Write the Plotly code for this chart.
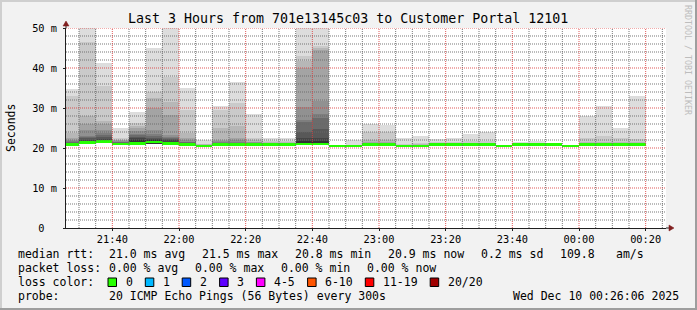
import pandas as pd
import plotly.graph_objects as go

# ---------------- data ----------------
title = "Last 3 Hours from 701e13145c03 to Customer Portal 12101"
range_start = "2025-12-09 21:26:06"
range_end = "2025-12-10 00:26:06"
first_bin = "2025-12-09 21:25:00"
bin_seconds = 300

# median RTT per 5-minute bin (ms)
median_ms = [20.9, 21.4, 21.6, 21.0, 21.1, 21.5, 21.2, 20.9, 20.5, 20.9,
             20.9, 20.9, 20.9, 20.9, 21.0, 21.0, 20.5, 20.5, 20.9, 20.9,
             20.5, 20.5, 20.9, 20.9, 20.9, 20.9, 20.5, 20.9, 20.9, 20.9,
             20.5, 20.9, 20.9, 20.9, 20.9]

# fastest ping per bin (ms)
min_ms = [20.8, 21.0, 21.2, 20.8, 20.9, 21.1, 20.8, 20.8, 20.4, 20.7,
          20.7, 20.8, 20.8, 20.8, 20.9, 20.9, 20.4, 20.4, 20.8, 20.8,
          20.4, 20.4, 20.8, 20.8, 20.8, 20.8, 20.4, 20.8, 20.8, 20.8,
          20.4, 20.8, 20.8, 20.8, 20.8]

# upper ping ranks per bin (ms): slowest (20/20) down to 11/20
smoke_upper = [
    [34.7, 33.0, 23.8, 22.4, 22.0, 21.7, 21.5, 21.3, 21.2, 21.1],
    [53.0, 46.4, 28.0, 26.0, 24.5, 23.1, 22.7, 22.4, 22.1, 21.8],
    [41.2, 35.4, 26.8, 25.9, 24.5, 23.8, 23.3, 22.8, 22.3, 22.0],
    [25.1, 22.5, 22.1, 21.9, 21.7, 21.5, 21.4, 21.3, 21.2, 21.1],
    [29.1, 26.3, 25.5, 24.9, 24.2, 23.6, 23.2, 22.8, 22.5, 22.0],
    [45.0, 33.9, 32.4, 30.1, 24.4, 23.5, 23.0, 22.6, 22.2, 21.9],
    [55.0, 37.8, 31.6, 28.2, 23.3, 22.8, 22.5, 22.2, 21.9, 21.6],
    [34.9, 29.4, 23.8, 22.5, 21.9, 21.6, 21.4, 21.3, 21.2, 21.1],
    [22.1, 21.0, 20.9, 20.8, 20.8, 20.7, 20.7, 20.6, 20.6, 20.6],
    [30.6, 29.6, 24.9, 22.1, 21.8, 21.5, 21.3, 21.2, 21.1, 21.0],
    [36.4, 31.2, 25.6, 22.4, 21.9, 21.5, 21.3, 21.2, 21.1, 21.0],
    [28.6, 22.4, 21.9, 21.6, 21.4, 21.3, 21.2, 21.1, 21.0, 21.0],
    [22.6, 21.8, 21.5, 21.3, 21.2, 21.1, 21.0, 21.0, 20.9, 20.9],
    [22.6, 21.7, 21.4, 21.3, 21.2, 21.1, 21.0, 21.0, 20.9, 20.9],
    [54.0, 43.0, 41.8, 40.1, 30.2, 27.1, 26.5, 24.0, 22.6, 21.8],
    [56.0, 45.6, 45.0, 44.5, 31.7, 28.4, 27.5, 24.8, 22.5, 21.8],
    [20.6, 20.6, 20.6, 20.6, 20.6, 20.6, 20.6, 20.6, 20.6, 20.6],
    [21.9, 20.8, 20.7, 20.7, 20.6, 20.6, 20.6, 20.6, 20.6, 20.6],
    [26.1, 24.0, 22.1, 21.5, 21.3, 21.2, 21.1, 21.0, 21.0, 20.9],
    [25.8, 24.0, 22.1, 21.5, 21.3, 21.2, 21.1, 21.0, 21.0, 20.9],
    [22.5, 21.0, 20.8, 20.7, 20.7, 20.6, 20.6, 20.6, 20.6, 20.6],
    [23.1, 21.2, 20.9, 20.8, 20.7, 20.7, 20.6, 20.6, 20.6, 20.6],
    [22.3, 21.5, 21.2, 21.1, 21.0, 21.0, 21.0, 20.9, 20.9, 20.9],
    [22.6, 21.6, 21.3, 21.1, 21.0, 21.0, 21.0, 20.9, 20.9, 20.9],
    [23.6, 21.7, 21.3, 21.1, 21.0, 21.0, 21.0, 20.9, 20.9, 20.9],
    [24.0, 21.8, 21.3, 21.1, 21.0, 21.0, 21.0, 20.9, 20.9, 20.9],
    [20.6, 20.6, 20.6, 20.6, 20.6, 20.6, 20.6, 20.6, 20.6, 20.6],
    [21.4, 21.1, 21.0, 21.0, 20.9, 20.9, 20.9, 20.9, 20.9, 20.9],
    [21.7, 21.2, 21.0, 21.0, 20.9, 20.9, 20.9, 20.9, 20.9, 20.9],
    [21.0, 21.0, 20.9, 20.9, 20.9, 20.9, 20.9, 20.9, 20.9, 20.9],
    [20.6, 20.6, 20.6, 20.6, 20.6, 20.6, 20.6, 20.6, 20.6, 20.6],
    [28.1, 22.4, 21.4, 21.2, 21.1, 21.0, 21.0, 21.0, 20.9, 20.9],
    [30.6, 23.1, 21.5, 21.2, 21.1, 21.0, 21.0, 21.0, 20.9, 20.9],
    [24.9, 22.4, 21.4, 21.2, 21.1, 21.0, 21.0, 21.0, 20.9, 20.9],
    [32.9, 22.2, 21.4, 21.2, 21.1, 21.0, 21.0, 21.0, 20.9, 20.9],
]

y_tickvals = [0, 10, 20, 30, 40, 50]
y_ticktext = ["0\u00a0\u00a0", "10 m", "20 m", "30 m", "40 m", "50 m"]

stats_rtt = ["21.0 ms avg", "21.5 ms max", "20.8 ms min", "20.9 ms now", "0.2 ms sd", "109.8", "am/s"]
stats_loss = ["0.00 % avg", "0.00 % max", "0.00 % min", "0.00 % now"]
loss_labels = ["0", "1", "2", "3", "4-5", "6-10", "11-19", "20/20"]
loss_colors = ["#26ff00", "#00b8ff", "#0059ff", "#5e00ff", "#ff00ff", "#ff5500", "#ff0000", "#a00000"]
probe_text = "20 ICMP Echo Pings (56 Bytes) every 300s"
stamp_text = "Wed Dec 10 00:26:06 2025"

# ---------------- layout helpers ----------------
W, H = 697, 310
L, T, PW, PH = 66, 28, 600, 200
FONT = "DejaVu Sans Mono"


def px(x):
    return (x - L) / PW


def py(y):
    return (T + PH - y) / PH


n = len(median_ms)
starts = pd.date_range(first_bin, periods=n, freq=f"{bin_seconds}s")
centers = starts + pd.Timedelta(seconds=bin_seconds / 2)
bar_w = bin_seconds * 1000

fig = go.Figure()

# smoke: outermost pair lightest, innermost darkest
half = 10
for k in range(1, half + 1):
    level = int(190 / half * (half - k)) + 50
    col = "#%02x%02x%02x" % (level, level, level)
    tops = [row[k - 1] for row in smoke_upper]
    fig.add_trace(go.Bar(
        x=centers, y=[t - b for t, b in zip(tops, min_ms)], base=min_ms,
        width=bar_w, marker=dict(color=col, line=dict(width=0)),
        showlegend=False, hoverinfo="skip"))

# median band (loss colour 0)
band = 0.36
fig.add_trace(go.Bar(
    x=centers, y=[2 * band] * n, base=[m - band for m in median_ms],
    width=bar_w, marker=dict(color=loss_colors[0], line=dict(width=0)),
    showlegend=False, hoverinfo="skip"))

# grid drawn above the smoke
t0 = pd.Timestamp(range_start)
t1 = pd.Timestamp(range_end)
minor_t = pd.date_range(t0.ceil("5min"), t1, freq="5min")
gx_minor, gy_minor, gx_major, gy_major = [], [], [], []
for t in minor_t:
    major = (t.minute % 20 == 0)
    xs, ys = (gx_major, gy_major) if major else (gx_minor, gy_minor)
    xs += [t, t, None]
    ys += [0, 50, None]
for v in range(2, 51, 2):
    major = (v % 10 == 0)
    xs, ys = (gx_major, gy_major) if major else (gx_minor, gy_minor)
    xs += [t0, t1, None]
    ys += [v, v, None]
fig.add_trace(go.Scatter(x=gx_minor, y=gy_minor, mode="lines",
                         line=dict(color="rgba(105,105,105,0.9)", width=1, dash="1px,1px"),
                         showlegend=False, hoverinfo="skip"))
fig.add_trace(go.Scatter(x=gx_major, y=gy_major, mode="lines",
                         line=dict(color="rgba(220,60,60,0.85)", width=1, dash="1px,1px"),
                         showlegend=False, hoverinfo="skip"))

fig.update_layout(
    width=W, height=H,
    margin=dict(l=L, r=W - L - PW, t=T, b=H - T - PH, pad=0),
    paper_bgcolor="#f2f2f2", plot_bgcolor="#ffffff",
    barmode="overlay", bargap=0,
    font=dict(family=FONT, size=10.3, color="#000000"),
    showlegend=False,
)
fig.update_xaxes(
    type="date", range=[range_start, range_end],
    tick0="2025-12-09 21:40:00", dtick=20 * 60 * 1000, tickformat="%H:%M",
    showgrid=False, zeroline=False,
    showline=True, linecolor="#1f1f1f", linewidth=1,
    ticks="outside", ticklen=2, tickcolor="#1f1f1f",
    tickfont=dict(family=FONT, size=10.3), ticklabelstandoff=0,
)
fig.update_yaxes(
    range=[0, 50], tickvals=y_tickvals, ticktext=y_ticktext,
    showgrid=False, zeroline=False,
    showline=True, linecolor="#1f1f1f", linewidth=1,
    ticks="outside", ticklen=2, tickcolor="#1f1f1f",
    tickfont=dict(family=FONT, size=10.3), ticklabelstandoff=4,
)

ann = []


def text(x, y, s, size=11.5, color="#000000", anchor="left", angle=0):
    ann.append(dict(x=px(x), y=py(y), xref="paper", yref="paper", text=s,
                    showarrow=False, xanchor=anchor, yanchor="middle",
                    textangle=angle,
                    font=dict(family=FONT, size=size, color=color)))


text(347.5, 18.5, title, size=13.3, anchor="center")
text(11, 128, "Seconds", size=11.5, anchor="center", angle=-90)
text(688, 60, "RRDTOOL / TOBI OETIKER", size=8.3, color="#bdbdbd", anchor="center", angle=90)

rtt_x = [107, 200, 293, 386, 479, 558, 614]
text(16, 254, "median rtt:")
for xx, s in zip(rtt_x, stats_rtt):
    text(xx, 254, s)
loss_x = [107, 193, 279, 364.5]
text(16, 268, "packet loss:")
for xx, s in zip(loss_x, stats_loss):
    text(xx, 268, s)
text(16, 282, "loss color:")
sq_x = [108, 145.3, 182.2, 219.6, 256.4, 307.6, 365.3, 430.2]
shapes = []
for xx, s, c in zip(sq_x, loss_labels, loss_colors):
    shapes.append(dict(type="rect", xref="paper", yref="paper",
                       x0=px(xx), x1=px(xx + 8.5), y0=py(286.5), y1=py(278),
                       fillcolor=c, line=dict(color="#000000", width=1)))
    text(xx + 15.5, 282, s)
text(16, 296, "probe:")
text(107, 296, probe_text)
text(681, 296, stamp_text, anchor="right")

# frame (rrdtool shades)
shapes += [
    dict(type="rect", xref="paper", yref="paper", x0=px(0), x1=px(W), y0=py(0), y1=py(2),
         fillcolor="#cfcfcf", line=dict(width=0), layer="below"),
    dict(type="rect", xref="paper", yref="paper", x0=px(0), x1=px(2), y0=py(0), y1=py(H),
         fillcolor="#cfcfcf", line=dict(width=0), layer="below"),
    dict(type="rect", xref="paper", yref="paper", x0=px(0), x1=px(W), y0=py(H - 2), y1=py(H),
         fillcolor="#9e9e9e", line=dict(width=0), layer="below"),
    dict(type="rect", xref="paper", yref="paper", x0=px(W - 2), x1=px(W), y0=py(0), y1=py(H),
         fillcolor="#9e9e9e", line=dict(width=0), layer="below"),
]
# axis extensions and arrows
shapes.append(dict(type="line", xref="paper", yref="paper", x0=px(L + PW), x1=px(L + PW + 4),
                   y0=py(T + PH), y1=py(T + PH), line=dict(color="#1f1f1f", width=1)))
shapes.append(dict(type="line", xref="paper", yref="paper", x0=px(L), x1=px(L),
                   y0=py(T), y1=py(T - 3), line=dict(color="#1f1f1f", width=1)))
ax_tip = L + PW + 8
shapes.append(dict(type="path", xref="paper", yref="paper",
                   path=f"M {px(ax_tip-5)},{py(T+PH-3)} L {px(ax_tip)},{py(T+PH)} L {px(ax_tip-5)},{py(T+PH+3)} Z",
                   fillcolor="#801f1f", line=dict(color="#801f1f", width=0.5)))
ay_tip = T - 7
shapes.append(dict(type="path", xref="paper", yref="paper",
                   path=f"M {px(L-3)},{py(ay_tip+5)} L {px(L)},{py(ay_tip)} L {px(L+3)},{py(ay_tip+5)} Z",
                   fillcolor="#801f1f", line=dict(color="#801f1f", width=0.5)))

fig.update_layout(annotations=ann, shapes=shapes)
fig.write_html("out.html")
